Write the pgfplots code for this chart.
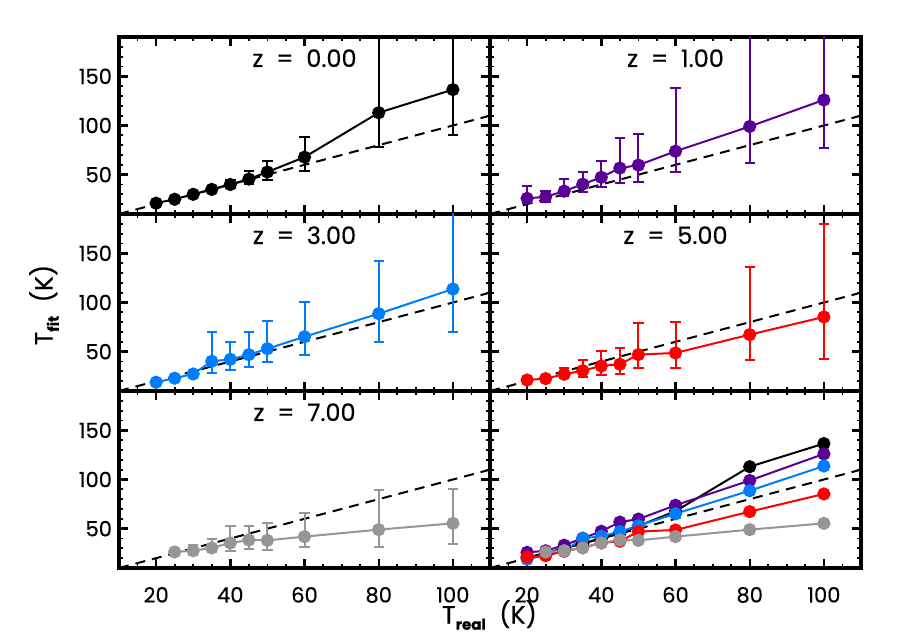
\documentclass[border=0pt]{standalone}
\usepackage{fontspec}
\setmainfont{Poppins}[FakeBold=0.4]
\usepackage{pgfplots}
\pgfplotsset{compat=1.18}
\definecolor{cpurple}{RGB}{90,0,150}
\definecolor{cblue}{RGB}{0,125,255}
\definecolor{cred}{RGB}{255,0,0}
\definecolor{cgray}{RGB}{150,150,150}
\pgfplotsset{
  panel/.style={
    scale only axis, width=185.5pt, height=88.5pt, anchor=south west,
    xmin=10, xmax=110, ymin=10, ymax=190,
    xtick={20,40,60,80,100}, ytick={50,100,150},
    minor xtick={10,15,...,110}, minor ytick={10,20,...,190},
    major tick length=4.5pt, minor tick length=2pt,
    axis line style={line width=1.6pt},
    every major tick/.append style={line width=1.2pt, black},
    every minor tick/.append style={line width=0.9pt, black},
    tick label style={font=\fontsize{10.5}{12}\selectfont},
    /pgf/number format/assume math mode=true,
    xticklabel style={yshift=-6pt},
    clip=true,
  },
  ser/.style={line width=1pt, color=#1, mark=*, mark size=2.8pt, mark options={fill=#1, draw=#1, solid},
    error bars/.cd, y dir=both, y explicit,
    error bar style={line width=1pt, color=#1},
    error mark options={rotate=90, mark size=2.6pt, line width=1pt, color=#1}},
  ser6/.style={line width=1pt, color=#1, mark=*, mark size=2.8pt, mark options={fill=#1, draw=#1, solid}},
  diag/.style={black, line width=1pt, dash pattern=on 5pt off 3.5pt},
}
\newcommand{\zlab}[1]{\node[font=\fontsize{12}{14}\selectfont] at (axis description cs:0.5,0.88) {z\ \ =\ \ #1};}
\begin{document}
\begin{tikzpicture}
\useasboundingbox (0,0) rectangle (450pt,321.5pt);
% panel 1
\begin{axis}[panel, at={(59.5pt,214.5pt)}, xticklabels={}]
\addplot[diag] coordinates {(10,10) (110,110)};
\addplot[ser=black] coordinates {
(20,21) += (0,1) -= (0,1)
(25,25) += (0,1) -= (0,1)
(30,30) += (0,1) -= (0,1)
(35,35) += (0,1.5) -= (0,1.5)
(40,40) += (0,4.3) -= (0,3.4)
(45,45.5) += (0,8.5) -= (0,5)
(50,52.7) += (0,11.7) -= (0,8.4)
(60,67.8) += (0,20.2) -= (0,14.1)
(80,113) += (0,100) -= (0,35.1)
(100,136.5) += (0,100) -= (0,46.3)
};
\zlab{0.00}
\end{axis}
% panel 2
\begin{axis}[panel, at={(245pt,214.5pt)}, xticklabels={}, yticklabels={}]
\addplot[diag] coordinates {(10,10) (110,110)};
\addplot[ser=cpurple] coordinates {
(20,25.9) += (0,12.4) -= (0,5.1)
(25,27.5) += (0,6.1) -= (0,5)
(30,33.2) += (0,12.4) -= (0,5)
(35,40.3) += (0,12.7) -= (0,8.1)
(40,47.3) += (0,16.7) -= (0,10)
(45,56.7) += (0,30.5) -= (0,15.4)
(50,59.7) += (0,31.3) -= (0,17.1)
(60,73.8) += (0,64.7) -= (0,21.5)
(80,99) += (0,120) -= (0,37)
(100,126) += (0,100) -= (0,48.5)
};
\zlab{1.00}
\end{axis}
% panel 3
\begin{axis}[panel, at={(59.5pt,126pt)}, xticklabels={}]
\addplot[diag] coordinates {(10,10) (110,110)};
\addplot[ser=cblue] coordinates {
(20,18.9) += (0,1) -= (0,1)
(25,23) += (0,1) -= (0,1)
(30,27.3) += (0,1) -= (0,1)
(35,40.2) += (0,29.8) -= (0,11.5)
(40,42.2) += (0,18) -= (0,10.8)
(45,47) += (0,22.7) -= (0,12.5)
(50,53) += (0,28.5) -= (0,13.8)
(60,65.2) += (0,35.6) -= (0,18.2)
(80,88.6) += (0,53.6) -= (0,28.4)
(100,113.7) += (0,100) -= (0,44)
};
\zlab{3.00}
\end{axis}
% panel 4
\begin{axis}[panel, at={(245pt,126pt)}, xticklabels={}, yticklabels={}]
\addplot[diag] coordinates {(10,10) (110,110)};
\addplot[ser=cred] coordinates {
(20,21.2) += (0,1) -= (0,1)
(25,22.6) += (0,2) -= (0,2)
(30,27) += (0,6.1) -= (0,4)
(35,30.7) += (0,11.2) -= (0,6.1)
(40,35.5) += (0,15.2) -= (0,9.5)
(45,37.2) += (0,16.2) -= (0,10.2)
(50,47) += (0,32.2) -= (0,13.6)
(60,48.7) += (0,31.8) -= (0,15.3)
(80,67.3) += (0,68.7) -= (0,26.1)
(100,85.3) += (0,94.7) -= (0,42.7)
};
\zlab{5.00}
\end{axis}
% panel 5
\begin{axis}[panel, at={(59.5pt,37.5pt)}]
\addplot[diag] coordinates {(10,10) (110,110)};
\addplot[ser=cgray] coordinates {
(25,26.3) += (0,1.5) -= (0,1.5)
(30,27.6) += (0,5.4) -= (0,4)
(35,30.4) += (0,8.7) -= (0,4.4)
(40,35.5) += (0,16.8) -= (0,8.5)
(45,38.5) += (0,14.5) -= (0,8.8)
(50,38.1) += (0,17.3) -= (0,9.4)
(60,41.9) += (0,23.6) -= (0,10.9)
(80,49) += (0,39.9) -= (0,17.6)
(100,55.4) += (0,35.3) -= (0,21.4)
};
\zlab{7.00}
\end{axis}
% panel 6
\begin{axis}[panel, at={(245pt,37.5pt)}, yticklabels={}]
\addplot[diag] coordinates {(10,10) (110,110)};
\addplot[ser6=black] coordinates {(20,21) (25,25) (30,30) (35,35) (40,40) (45,45.5) (50,52.7) (60,67.8) (80,113) (100,136.5)};
\addplot[ser6=cpurple] coordinates {(20,25.9) (25,27.5) (30,33.2) (35,40.3) (40,47.3) (45,56.7) (50,59.7) (60,73.8) (80,99) (100,126)};
\addplot[ser6=cblue] coordinates {(20,18.9) (25,23) (30,27.3) (35,40.2) (40,42.2) (45,47) (50,53) (60,65.2) (80,88.6) (100,113.7)};
\addplot[ser6=cred] coordinates {(20,21.2) (25,22.6) (30,27) (35,30.7) (40,35.5) (45,37.2) (50,47) (60,48.7) (80,67.3) (100,85.3)};
\addplot[ser6=cgray] coordinates {(25,26.3) (30,27.6) (35,30.4) (40,35.5) (45,38.5) (50,38.1) (60,41.9) (80,49) (100,55.4)};
\end{axis}
\node[font=\fontsize{12.5}{14}\selectfont] at (244.75pt,14pt) {T\raisebox{-0.45ex}{\fontsize{7.5}{8}\selectfont\bfseries real}\ \ (K)};
\node[font=\fontsize{12.5}{14}\selectfont, rotate=90] at (22pt,169pt) {T\raisebox{-0.45ex}{\fontsize{7.5}{8}\selectfont\bfseries fit}\ \ (K)};
\end{tikzpicture}
\end{document}
